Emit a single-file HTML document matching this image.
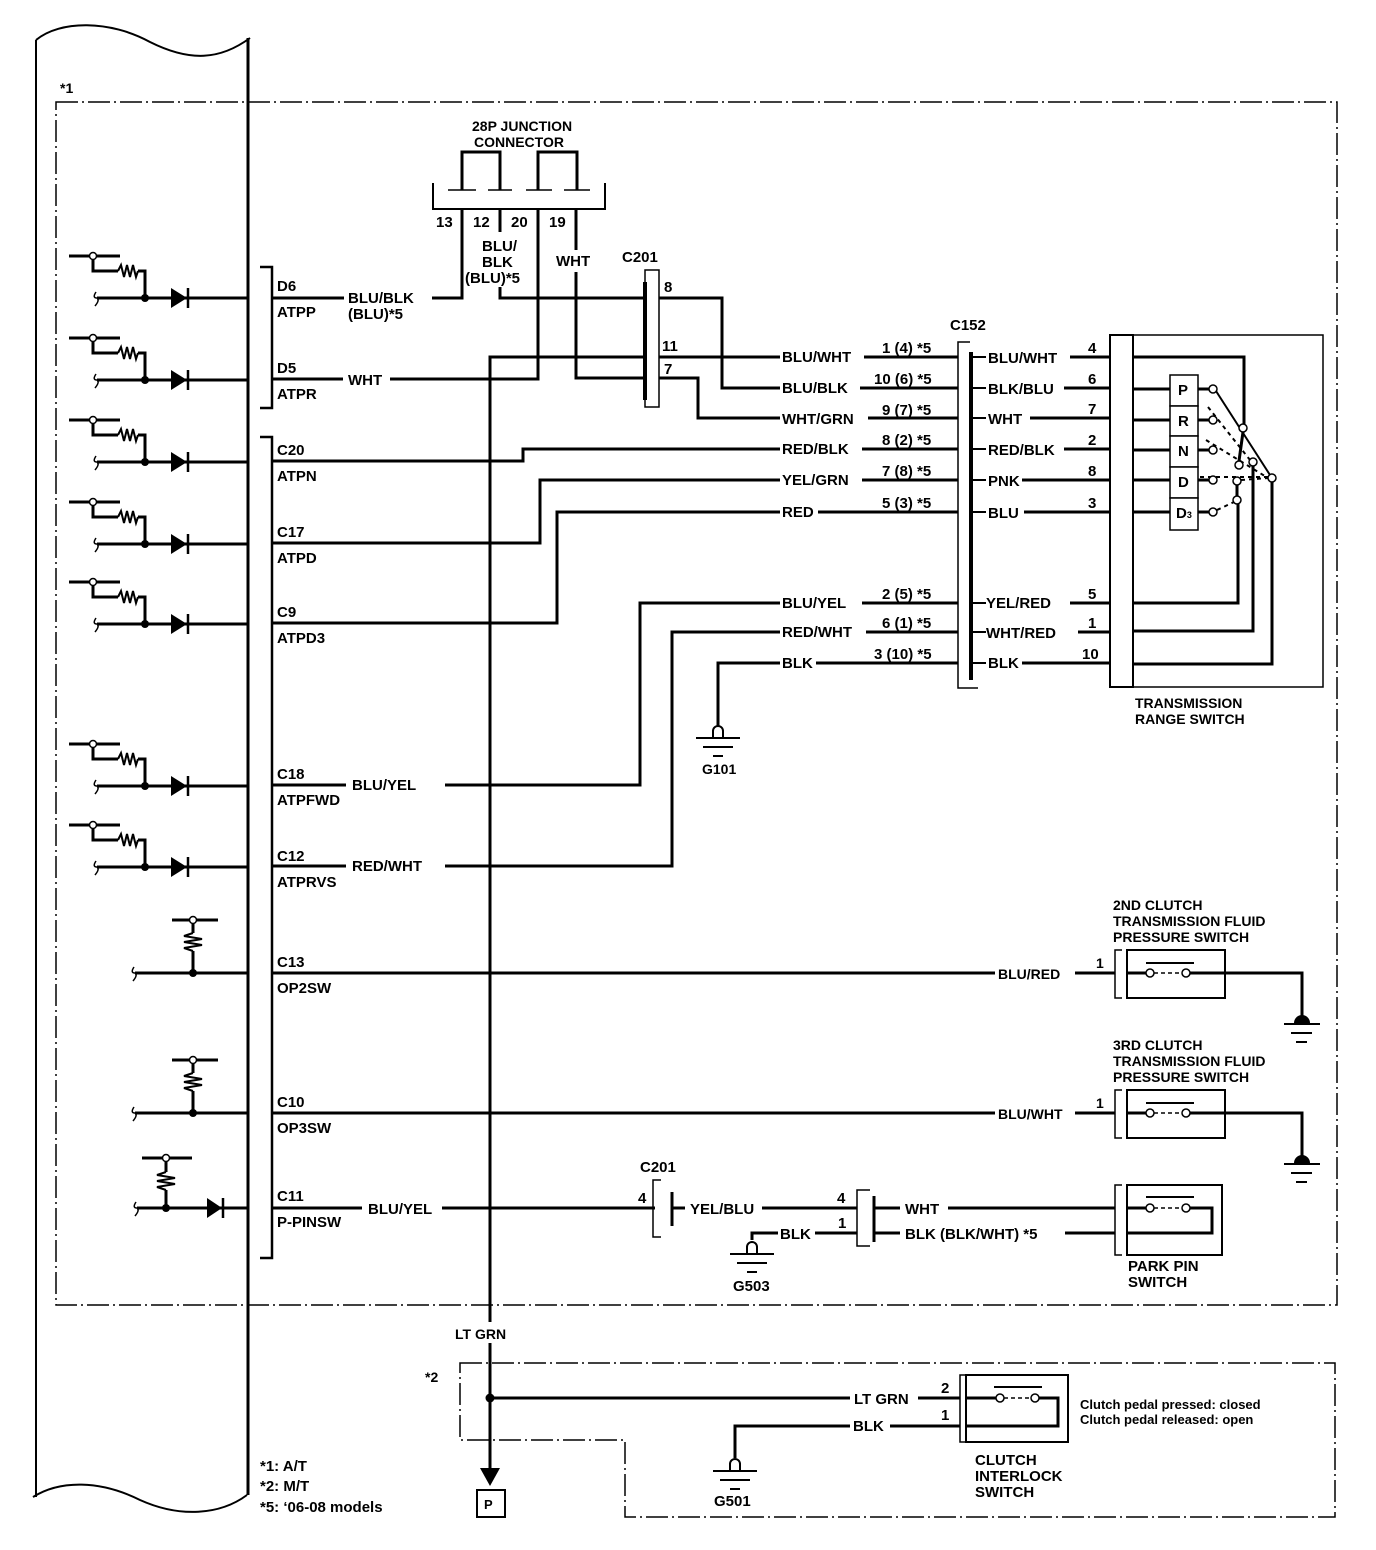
<!DOCTYPE html>
<html><head><meta charset="utf-8"><style>
html,body{margin:0;padding:0;background:#fff;}
svg{display:block;}
text{font-family:"Liberation Sans",sans-serif;font-weight:bold;font-size:15px;fill:#000;}
</style></head><body>
<svg width="1376" height="1550" viewBox="0 0 1376 1550" xmlns="http://www.w3.org/2000/svg">
<defs>
<g id="diodeRow">
  <path d="M69,-42 H120 M93,-42 V-27 H118 M138,-27 H145 V0" fill="none" stroke="#000" stroke-width="3"/>
  <polyline points="118,-27 121,-33 124,-21 127,-33 130,-21 133,-33 136,-21 138,-27" fill="none" stroke="#000" stroke-width="2"/>
  <circle cx="93" cy="-42" r="3.5" fill="#fff" stroke="#000" stroke-width="1.5"/>
  <path d="M97,0 H248" stroke="#000" stroke-width="3"/>
  <path d="M96,-6 Q92,0 97,0 Q100,2 95,8" fill="none" stroke="#000" stroke-width="1.5"/>
  <circle cx="145" cy="0" r="4" fill="#000"/>
  <polygon points="171,-10 171,10 187,0" fill="#000"/>
  <path d="M188,-10 V10" stroke="#000" stroke-width="2.5"/>
</g>
<g id="pullRow">
  <path d="M172,-53 H218" stroke="#000" stroke-width="3"/>
  <path d="M193,-53 V-40 M193,-22 V0" stroke="#000" stroke-width="3"/>
  <polyline points="193,-40 184,-37 202,-34 184,-31 202,-28 184,-25 193,-22" fill="none" stroke="#000" stroke-width="2"/>
  <circle cx="193" cy="-53" r="3.5" fill="#fff" stroke="#000" stroke-width="1.5"/>
  <path d="M135,0 H248" stroke="#000" stroke-width="3"/>
  <path d="M134,-6 Q130,0 135,0 Q138,2 133,8" fill="none" stroke="#000" stroke-width="1.5"/>
  <circle cx="193" cy="0" r="4" fill="#000"/>
</g>
<g id="gndSw">
  <path d="M0,0 V-6 A5,5 0 0 1 10,-6 V0" fill="none" stroke="#000" stroke-width="2"/>
  <path d="M-17,1 H27 M-10,10 H20 M0,19 H10" stroke="#000" stroke-width="2"/>
</g>
</defs>

<!-- left panel -->
<path d="M36,40 C60,20 110,20 150,42 C190,62 220,60 250,38" fill="none" stroke="#000" stroke-width="2"/>
<path d="M36,40 V1497" stroke="#000" stroke-width="2"/>
<path d="M248,38 V1495" stroke="#000" stroke-width="3"/>
<path d="M33,1497 C60,1480 100,1480 140,1500 C180,1518 220,1515 247,1495" fill="none" stroke="#000" stroke-width="2"/>

<!-- dashed boxes -->
<g fill="none" stroke="#000" stroke-width="1.5" stroke-dasharray="22 4 2 4">
<path d="M56,102 H1337 V1305 H56 Z"/>
<path d="M460,1363 H1335 V1517 H625 V1440 H460 Z"/>
</g>
<text x="60" y="93" style="font-size:14px">*1</text>
<text x="425" y="1382" style="font-size:14px">*2</text>

<!-- left rows -->
<use href="#diodeRow" x="0" y="298"/>
<use href="#diodeRow" x="0" y="380"/>
<use href="#diodeRow" x="0" y="462"/>
<use href="#diodeRow" x="0" y="544"/>
<use href="#diodeRow" x="0" y="624"/>
<use href="#diodeRow" x="0" y="786"/>
<use href="#diodeRow" x="0" y="867"/>
<use href="#pullRow" x="0" y="973"/>
<use href="#pullRow" x="0" y="1113"/>
<!-- C11 -->
<g>
  <path d="M142,1158 H192 M166,1158 V1172 M166,1190 V1208" stroke="#000" stroke-width="3"/>
  <polyline points="166,1172 157,1175 175,1178 157,1181 175,1184 157,1187 166,1190" fill="none" stroke="#000" stroke-width="2"/>
  <circle cx="166" cy="1158" r="3.5" fill="#fff" stroke="#000" stroke-width="1.5"/>
  <path d="M137,1208 H248" stroke="#000" stroke-width="3"/>
  <path d="M136,1202 Q132,1208 137,1208 Q140,1210 135,1216" fill="none" stroke="#000" stroke-width="1.5"/>
  <circle cx="166" cy="1208" r="4" fill="#000"/>
  <polygon points="207,1198 207,1218 222,1208" fill="#000"/>
  <path d="M223,1198 V1218" stroke="#000" stroke-width="2.5"/>
</g>

<!-- ECM brackets -->
<path d="M260,267 H272 V408 H260 M260,437 H272 V1258 H260" fill="none" stroke="#000" stroke-width="2.5"/>
<g style="font-size:14px">
<text x="277" y="291">D6</text><text x="277" y="317">ATPP</text>
<text x="277" y="373">D5</text><text x="277" y="399">ATPR</text>
<text x="277" y="455">C20</text><text x="277" y="481">ATPN</text>
<text x="277" y="537">C17</text><text x="277" y="563">ATPD</text>
<text x="277" y="617">C9</text><text x="277" y="643">ATPD3</text>
<text x="277" y="779">C18</text><text x="277" y="805">ATPFWD</text>
<text x="277" y="861">C12</text><text x="277" y="887">ATPRVS</text>
<text x="277" y="967">C13</text><text x="277" y="993">OP2SW</text>
<text x="277" y="1107">C10</text><text x="277" y="1133">OP3SW</text>
<text x="277" y="1201">C11</text><text x="277" y="1227">P-PINSW</text>
</g>

<!-- junction connector -->
<text x="472" y="131" style="font-size:14px">28P JUNCTION</text>
<text x="474" y="147" style="font-size:14px">CONNECTOR</text>
<path d="M433,183 V209 H605 V183" fill="none" stroke="#000" stroke-width="2"/>
<path d="M462,190 V152 H500 V190 M538,190 V152 H577 V190" fill="none" stroke="#000" stroke-width="3"/>
<path d="M448,190 H476 M488,190 H512 M526,190 H552 M564,190 H590" stroke="#000" stroke-width="1.5"/>
<g style="font-size:14px">
<text x="436" y="227">13</text><text x="473" y="227">12</text><text x="511" y="227">20</text><text x="549" y="227">19</text>
<text x="482" y="251">BLU/</text><text x="482" y="267">BLK</text><text x="465" y="283">(BLU)*5</text>
<text x="556" y="266">WHT</text>
<text x="348" y="303">BLU/BLK</text><text x="348" y="319">(BLU)*5</text>
<text x="348" y="385">WHT</text>
<text x="622" y="262">C201</text>
<text x="664" y="292">8</text><text x="662" y="351">11</text><text x="664" y="374">7</text>
</g>

<g fill="none" stroke="#000" stroke-width="3">
<path d="M272,298 H344 M432,298 H462 V209"/>
<path d="M500,209 V232 M500,287 V298 H722 V388 H780"/>
<path d="M272,379 H343 M390,379 H538 V209"/>
<path d="M576,209 V250 M576,272 V378 H698 V418 H780"/>
<path d="M490,1322 V357 H780"/>
<path d="M490,1343 V1470"/>
<path d="M272,461 H523 V449 H780"/>
<path d="M272,543 H540 V480 H780"/>
<path d="M272,623 H557 V512 H780"/>
<path d="M272,785 H346 M445,785 H640 V603 H780"/>
<path d="M272,866 H346 M445,866 H672 V632 H780"/>
<path d="M718,726 V663 H780"/>
</g>
<polygon points="480,1468 500,1468 490,1486" fill="#000"/>
<rect x="477" y="1490" width="28" height="27" fill="#fff" stroke="#000" stroke-width="2"/>
<text x="484" y="1509" style="font-size:13px">P</text>
<text x="455" y="1339" style="font-size:14px">LT GRN</text>

<!-- C201 top -->
<rect x="645" y="270" width="14" height="137" fill="#fff" stroke="#000" stroke-width="1.5"/>
<path d="M645,282 V400" stroke="#000" stroke-width="4"/>
<path d="M659,298 H722 M659,357 H780 M659,378 H698" stroke="#000" stroke-width="3"/>

<!-- G101 -->
<use href="#gndSw" x="713" y="737"/>
<text x="702" y="774" style="font-size:14px">G101</text>
<text x="352" y="790" style="font-size:15px">BLU/YEL</text>
<text x="352" y="871" style="font-size:15px">RED/WHT</text>

<!-- middle labels -->
<g style="font-size:14px">
<text x="782" y="362">BLU/WHT</text><text x="882" y="353">1 (4) *5</text>
<text x="782" y="393">BLU/BLK</text><text x="874" y="384">10 (6) *5</text>
<text x="782" y="424">WHT/GRN</text><text x="882" y="415">9 (7) *5</text>
<text x="782" y="454">RED/BLK</text><text x="882" y="445">8 (2) *5</text>
<text x="782" y="485">YEL/GRN</text><text x="882" y="476">7 (8) *5</text>
<text x="782" y="517">RED</text><text x="882" y="508">5 (3) *5</text>
<text x="782" y="608">BLU/YEL</text><text x="882" y="599">2 (5) *5</text>
<text x="782" y="637">RED/WHT</text><text x="882" y="628">6 (1) *5</text>
<text x="782" y="668">BLK</text><text x="874" y="659">3 (10) *5</text>
<text x="950" y="330">C152</text>
</g>
<g stroke="#000" stroke-width="3">
<path d="M864,357 H958 M860,388 H958 M868,418 H958 M862,449 H958 M862,480 H958 M818,512 H958 M862,603 H958 M866,632 H958 M816,663 H958"/>
</g>
<!-- C152 -->
<path d="M970,342 H958 V688 H978" fill="none" stroke="#000" stroke-width="1.5"/>
<path d="M971,352 V680" stroke="#000" stroke-width="4"/>
<g stroke="#000" stroke-width="2"><path d="M973,357 H986 M973,388 H986 M973,418 H986 M973,449 H986 M973,480 H986 M973,512 H986 M973,603 H986 M973,632 H986 M973,663 H986"/></g>
<g style="font-size:14px">
<text x="988" y="363">BLU/WHT</text><text x="1088" y="353">4</text>
<text x="988" y="394">BLK/BLU</text><text x="1088" y="384">6</text>
<text x="988" y="424">WHT</text><text x="1088" y="414">7</text>
<text x="988" y="455">RED/BLK</text><text x="1088" y="445">2</text>
<text x="988" y="486">PNK</text><text x="1088" y="476">8</text>
<text x="988" y="518">BLU</text><text x="1088" y="508">3</text>
<text x="986" y="608">YEL/RED</text><text x="1088" y="599">5</text>
<text x="986" y="638">WHT/RED</text><text x="1088" y="628">1</text>
<text x="988" y="668">BLK</text><text x="1082" y="659">10</text>
</g>
<g stroke="#000" stroke-width="3">
<path d="M1070,357 H1110 M1064,388 H1110 M1030,418 H1110 M1064,449 H1110 M1022,480 H1110 M1024,512 H1110 M1070,603 H1110 M1078,632 H1110 M1022,663 H1110"/>
</g>

<!-- range switch -->
<rect x="1110" y="335" width="23" height="352" fill="#fff" stroke="#000" stroke-width="2"/>
<path d="M1133,335 H1323 V687 H1133" fill="none" stroke="#000" stroke-width="1.5"/>
<g fill="none" stroke="#000" stroke-width="3">
<path d="M1133,357 H1244 V424"/>
<path d="M1133,389 H1170 M1133,420 H1170 M1133,450 H1170 M1133,480 H1170 M1133,512 H1170"/>
<path d="M1198,389 H1209 M1198,420 H1209 M1198,450 H1209 M1198,480 H1209 M1198,512 H1209"/>
<path d="M1133,603 H1238 V504"/>
<path d="M1133,631 H1253 V466"/>
<path d="M1133,664 H1272 V482"/>
<path d="M1243,432 L1239,461"/>
<path d="M1237,485 V496"/>
</g>
<path d="M1216,391 L1270,475" stroke="#000" stroke-width="2"/>
<g stroke="#000" stroke-width="2" stroke-dasharray="4 4" fill="none">
<path d="M1208,407 L1250,460"/>
<path d="M1206,440 L1268,478"/>
<path d="M1200,477 H1268"/>
<path d="M1217,510 L1234,502"/>
<path d="M1241,480 L1268,478"/>
</g>
<g fill="#fff" stroke="#000" stroke-width="1.5">
<rect x="1170" y="375" width="28" height="31"/><rect x="1170" y="406" width="28" height="30"/>
<rect x="1170" y="436" width="28" height="31"/><rect x="1170" y="467" width="28" height="31"/>
<rect x="1170" y="498" width="28" height="32"/>
</g>
<g style="font-size:14px"><text x="1178" y="395">P</text><text x="1178" y="426">R</text><text x="1178" y="456">N</text><text x="1178" y="487">D</text><text x="1176" y="518">D<tspan style="font-size:9px">3</tspan></text></g>
<g fill="#fff" stroke="#000" stroke-width="1.5">
<circle cx="1213" cy="389" r="4"/><circle cx="1213" cy="420" r="4"/><circle cx="1213" cy="450" r="4"/><circle cx="1213" cy="480" r="4"/><circle cx="1213" cy="512" r="4"/>
<circle cx="1243" cy="428" r="4"/><circle cx="1239" cy="465" r="4"/><circle cx="1253" cy="462" r="4"/><circle cx="1272" cy="478" r="4"/><circle cx="1237" cy="481" r="4"/><circle cx="1237" cy="500" r="4"/>
</g>
<text x="1135" y="708" style="font-size:14px">TRANSMISSION</text>
<text x="1135" y="724" style="font-size:14px">RANGE SWITCH</text>

<!-- pressure switches -->
<g>
<path d="M272,973 H995 M1075,973 H1115" stroke="#000" stroke-width="3"/>
<text x="998" y="979" style="font-size:14px">BLU/RED</text>
<text x="1096" y="968" style="font-size:14px">1</text>
<path d="M1122,950 H1115 V998 H1122" fill="none" stroke="#000" stroke-width="1.5"/>
<rect x="1127" y="950" width="98" height="48" fill="none" stroke="#000" stroke-width="2"/>
<path d="M1127,973 H1146 M1190,973 H1302 V1016" fill="none" stroke="#000" stroke-width="3"/>
<path d="M1154,973 H1182" stroke="#000" stroke-width="1.5" stroke-dasharray="4 3"/>
<path d="M1146,963 H1194" stroke="#000" stroke-width="2"/>
<circle cx="1150" cy="973" r="4" fill="#fff" stroke="#000" stroke-width="1.5"/>
<circle cx="1186" cy="973" r="4" fill="#fff" stroke="#000" stroke-width="1.5"/>
<path d="M1294,1023 A8,8 0 0 1 1310,1023 Z" fill="#000"/>
<path d="M1284,1024 H1320 M1291,1033 H1312 M1296,1042 H1307" stroke="#000" stroke-width="2"/>
</g>
<text x="1113" y="910" style="font-size:14px">2ND CLUTCH</text>
<text x="1113" y="926" style="font-size:14px">TRANSMISSION FLUID</text>
<text x="1113" y="942" style="font-size:14px">PRESSURE SWITCH</text>
<g transform="translate(0,140)">
<path d="M272,973 H995 M1075,973 H1115" stroke="#000" stroke-width="3"/>
<text x="998" y="979" style="font-size:14px">BLU/WHT</text>
<text x="1096" y="968" style="font-size:14px">1</text>
<path d="M1122,950 H1115 V998 H1122" fill="none" stroke="#000" stroke-width="1.5"/>
<rect x="1127" y="950" width="98" height="48" fill="none" stroke="#000" stroke-width="2"/>
<path d="M1127,973 H1146 M1190,973 H1302 V1016" fill="none" stroke="#000" stroke-width="3"/>
<path d="M1154,973 H1182" stroke="#000" stroke-width="1.5" stroke-dasharray="4 3"/>
<path d="M1146,963 H1194" stroke="#000" stroke-width="2"/>
<circle cx="1150" cy="973" r="4" fill="#fff" stroke="#000" stroke-width="1.5"/>
<circle cx="1186" cy="973" r="4" fill="#fff" stroke="#000" stroke-width="1.5"/>
<path d="M1294,1023 A8,8 0 0 1 1310,1023 Z" fill="#000"/>
<path d="M1284,1024 H1320 M1291,1033 H1312 M1296,1042 H1307" stroke="#000" stroke-width="2"/>
</g>
<text x="1113" y="1050" style="font-size:14px">3RD CLUTCH</text>
<text x="1113" y="1066" style="font-size:14px">TRANSMISSION FLUID</text>
<text x="1113" y="1082" style="font-size:14px">PRESSURE SWITCH</text>

<!-- P-PINSW -->
<g stroke="#000" stroke-width="3" fill="none">
<path d="M272,1208 H362 M442,1208 H655"/>
<path d="M672,1208 H685 M762,1208 H857"/>
<path d="M752,1240 V1233 H778 M815,1233 H857"/>
<path d="M875,1208 H900 M948,1208 H1115"/>
<path d="M875,1233 H900 M1065,1233 H1115"/>
<path d="M1127,1208 H1146 M1190,1208 H1212 V1233 H1127"/>
</g>
<path d="M661,1180 H653 V1237 H661" fill="none" stroke="#000" stroke-width="1.5"/>
<path d="M672,1192 V1226" stroke="#000" stroke-width="3"/>
<path d="M870,1190 H857 V1246 H870" fill="none" stroke="#000" stroke-width="1.5"/>
<path d="M874,1196 V1242" stroke="#000" stroke-width="3"/>
<g style="font-size:14px">
<text x="368" y="1214">BLU/YEL</text>
<text x="640" y="1172">C201</text>
<text x="638" y="1203">4</text>
<text x="690" y="1214">YEL/BLU</text>
<text x="837" y="1203">4</text>
<text x="838" y="1228">1</text>
<text x="780" y="1239">BLK</text>
<text x="905" y="1214">WHT</text>
<text x="905" y="1239">BLK (BLK/WHT) *5</text>
<text x="733" y="1291">G503</text>
<text x="1128" y="1271">PARK PIN</text>
<text x="1128" y="1287">SWITCH</text>
</g>
<use href="#gndSw" x="747" y="1253"/>
<path d="M1122,1185 H1115 V1255 H1122" fill="none" stroke="#000" stroke-width="1.5"/>
<rect x="1127" y="1185" width="95" height="70" fill="none" stroke="#000" stroke-width="2"/>
<path d="M1154,1208 H1182" stroke="#000" stroke-width="1.5" stroke-dasharray="4 3"/>
<path d="M1146,1197 H1194" stroke="#000" stroke-width="2"/>
<circle cx="1150" cy="1208" r="4" fill="#fff" stroke="#000" stroke-width="1.5"/>
<circle cx="1186" cy="1208" r="4" fill="#fff" stroke="#000" stroke-width="1.5"/>

<!-- M/T clutch interlock -->
<g stroke="#000" stroke-width="3" fill="none">
<path d="M490,1398 H850 M918,1398 H960"/>
<path d="M735,1458 V1426 H850 M890,1426 H960"/>
<path d="M966,1398 H996 M1039,1398 H1058 V1426 H966"/>
</g>
<circle cx="490" cy="1398" r="4.5" fill="#000"/>
<g style="font-size:14px">
<text x="854" y="1404">LT GRN</text><text x="941" y="1393">2</text>
<text x="853" y="1431">BLK</text><text x="941" y="1420">1</text>
<text x="975" y="1465">CLUTCH</text><text x="975" y="1481">INTERLOCK</text><text x="975" y="1497">SWITCH</text>
<text x="714" y="1506">G501</text>
<text x="1080" y="1409" style="font-size:13px">Clutch pedal pressed: closed</text>
<text x="1080" y="1424" style="font-size:13px">Clutch pedal released: open</text>
</g>
<use href="#gndSw" x="730" y="1470"/>
<path d="M966,1375 H960 V1442 H966" fill="none" stroke="#000" stroke-width="1.5"/>
<rect x="966" y="1375" width="102" height="67" fill="none" stroke="#000" stroke-width="2"/>
<path d="M1004,1398 H1031" stroke="#000" stroke-width="1.5" stroke-dasharray="4 3"/>
<path d="M994,1387 H1042" stroke="#000" stroke-width="2"/>
<circle cx="1000" cy="1398" r="4" fill="#fff" stroke="#000" stroke-width="1.5"/>
<circle cx="1035" cy="1398" r="4" fill="#fff" stroke="#000" stroke-width="1.5"/>

<!-- legend -->
<g style="font-size:18px">
<text x="260" y="1471">*1: A/T</text>
<text x="260" y="1491">*2: M/T</text>
<text x="260" y="1512">*5: ‘06-08 models</text>
</g>
</svg>
</body></html>
